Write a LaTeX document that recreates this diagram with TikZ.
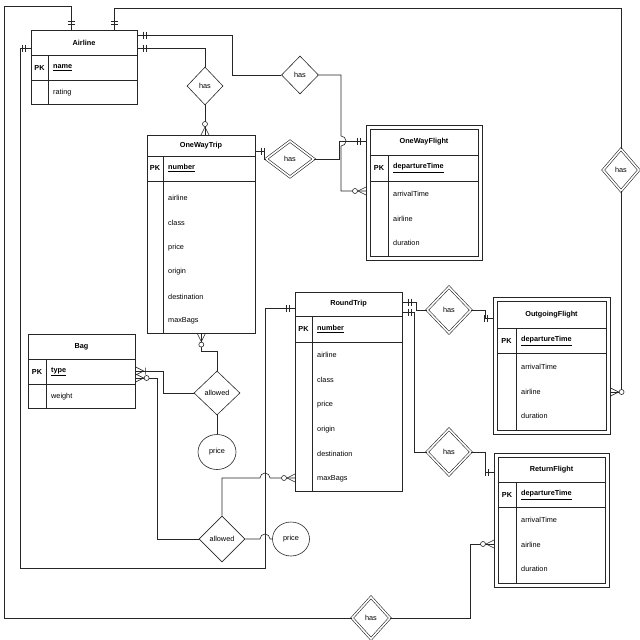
\documentclass[tikz,border=0pt]{standalone}
\usepackage{fontspec}
\setmainfont{Liberation Sans}
\usetikzlibrary{shapes.geometric, calc}
\newcommand\erfont{\fontsize{7.3}{8.5}\selectfont}

\tikzset{
  conn/.style={draw=black!85, line width=0.6pt},
  box/.style={conn, rectangle, inner sep=0pt, anchor=north west},
  rel/.style={conn, diamond, inner sep=0pt, font=\erfont},
  weakrel/.style={rel, double, double distance=1.6pt},
  attrib/.style={conn, ellipse, inner sep=0pt, font=\erfont},
  ertitle/.style={inner sep=0pt, font=\erfont\bfseries},
  erpk/.style={inner sep=0pt, font=\erfont\bfseries},
  erfield/.style={inner sep=0pt, anchor=west, font=\erfont},
  pics/mone/.style={code={\draw[conn] (-6pt,-3.5pt) -- (-6pt,3.5pt) (-9pt,-3.5pt) -- (-9pt,3.5pt);}},
  pics/zmany/.style={code={\draw[conn] (0pt,-4pt) -- (-8pt,0pt) -- (0pt,4pt);
      \draw[conn, fill=white] (-11pt,0pt) circle[radius=2.5pt];}},
  pics/omany/.style={code={\draw[conn] (0pt,-4pt) -- (-8pt,0pt) -- (0pt,4pt) (-10pt,-3.5pt) -- (-10pt,3.5pt);}},
}

\begin{document}
\begin{tikzpicture}[x=1pt, y=-1pt]
  \useasboundingbox (0,0) rectangle (640,640);

  % --- entities ---------------------------------------------------------
  % Airline
  \node[box, minimum width=106, minimum height=74] (airline) at (31,30) {};
  \draw[conn] (31,55) -- (137,55) (31,80) -- (137,80) (48,55) -- (48,104);
  \node[ertitle] (airline-t) at (84,43) {Airline};
  \node[erpk] (airline-pk) at (39.5,68) {PK};
  \node[erfield] (airline-k) at (53,68) {\textbf{\underline{name}}};
  \node[erfield] (airline-a1) at (53,93) {rating};

  % OneWayTrip
  \node[box, minimum width=108, minimum height=198] (owtrip) at (147,135) {};
  \draw[conn] (147,156) -- (255,156) (147,181) -- (255,181) (163,156) -- (163,333);
  \node[ertitle] (owtrip-t) at (201,146) {OneWayTrip};
  \node[erpk] (owtrip-pk) at (155,168) {PK};
  \node[erfield] (owtrip-k) at (168,168) {\textbf{\underline{number}}};
  \foreach \attr [count=\i] in {airline,class,price,origin,destination,maxBags}
    \node[erfield] (owtrip-a\i) at (168,{173.4+24.6*\i}) {\attr};

  % OneWayFlight (weak)
  \node[box, minimum width=116, minimum height=135] (owflight) at (366,125) {};
  \draw[conn] (370,129) rectangle (478,256);
  \draw[conn] (370,155) -- (478,155) (370,181) -- (478,181) (388,155) -- (388,256);
  \node[ertitle] (owflight-t) at (424,142) {OneWayFlight};
  \node[erpk] (owflight-pk) at (379,168) {PK};
  \node[erfield] (owflight-k) at (393,168) {\textbf{\underline{departureTime}}};
  \foreach \attr [count=\i] in {arrivalTime,airline,duration}
    \node[erfield] (owflight-a\i) at (393,{169.5+24.5*\i}) {\attr};

  % Bag
  \node[box, minimum width=107, minimum height=74] (bag) at (28,334) {};
  \draw[conn] (28,359) -- (135,359) (28,384) -- (135,384) (46,359) -- (46,408);
  \node[ertitle] (bag-t) at (81.5,347) {Bag};
  \node[erpk] (bag-pk) at (37,372) {PK};
  \node[erfield] (bag-k) at (51,372) {\textbf{\underline{type}}};
  \node[erfield] (bag-a1) at (51,397) {weight};

  % RoundTrip
  \node[box, minimum width=107, minimum height=199] (rtrip) at (295,292) {};
  \draw[conn] (295,316) -- (402,316) (295,342) -- (402,342) (312,316) -- (312,491);
  \node[ertitle] (rtrip-t) at (348.5,304) {RoundTrip};
  \node[erpk] (rtrip-pk) at (303.5,329) {PK};
  \node[erfield] (rtrip-k) at (317,329) {\textbf{\underline{number}}};
  \foreach \attr [count=\i] in {airline,class,price,origin,destination,maxBags}
    \node[erfield] (rtrip-a\i) at (317,{330.2+24.8*\i}) {\attr};

  % OutgoingFlight (weak)
  \node[box, minimum width=117, minimum height=137] (ogflight) at (493,297) {};
  \draw[conn] (497,301) rectangle (606,430);
  \draw[conn] (497,328) -- (606,328) (497,353) -- (606,353) (516,328) -- (516,430);
  \node[ertitle] (ogflight-t) at (551.5,315) {OutgoingFlight};
  \node[erpk] (ogflight-pk) at (506.5,341) {PK};
  \node[erfield] (ogflight-k) at (521,341) {\textbf{\underline{departureTime}}};
  \foreach \attr [count=\i] in {arrivalTime,airline,duration}
    \node[erfield] (ogflight-a\i) at (521,{342.5+24.5*\i}) {\attr};

  % ReturnFlight (weak)
  \node[box, minimum width=115, minimum height=134] (rtflight) at (494,453) {};
  \draw[conn] (498,457) rectangle (605,583);
  \draw[conn] (498,482) -- (605,482) (498,507) -- (605,507) (516,482) -- (516,583);
  \node[ertitle] (rtflight-t) at (551.5,470) {ReturnFlight};
  \node[erpk] (rtflight-pk) at (507,495) {PK};
  \node[erfield] (rtflight-k) at (521,495) {\textbf{\underline{departureTime}}};
  \foreach \attr [count=\i] in {arrivalTime,airline,duration}
    \node[erfield] (rtflight-a\i) at (521,{495.5+24.5*\i}) {\attr};

  % --- relationships and attributes -------------------------------------
  \node[rel, minimum width=36, minimum height=38] (has1) at (205,86) {has};
  \node[rel, minimum width=37, minimum height=38] (has2) at (300,75) {has};
  \node[weakrel, minimum width=48, minimum height=36] (has3) at (290,159) {has};
  \node[weakrel, minimum width=44, minimum height=46] (has4) at (449,310) {has};
  \node[weakrel, minimum width=44, minimum height=46] (has5) at (449,452) {has};
  \node[weakrel, minimum width=36, minimum height=42] (has6) at (621,170) {has};
  \node[weakrel, minimum width=38, minimum height=42] (has7) at (371,618) {has};
  \node[rel, minimum width=46, minimum height=44] (allow1) at (217,393) {allowed};
  \node[rel, minimum width=46, minimum height=46] (allow2) at (222,539) {allowed};
  \node[attrib, minimum width=38, minimum height=35] (price1) at (217,452) {price};
  \node[attrib, minimum width=37, minimum height=34] (price2) at (291,539) {price};

  % --- ports on the entity borders --------------------------------------
  \coordinate (al-t1) at ($(airline.north west)+(40,0)$);
  \coordinate (al-t2) at ($(airline.north west)+(83,0)$);
  \coordinate (al-r1) at ($(airline.north east)+(0,5)$);
  \coordinate (al-r2) at ($(airline.north east)+(0,18)$);
  \coordinate (al-l)  at ($(airline.north west)+(0,18)$);
  \coordinate (owt-t) at (has1.south |- owtrip.north);
  \coordinate (owt-r) at ($(owtrip.north east)+(0,16)$);
  \coordinate (owt-b) at (owtrip.south);
  \coordinate (owf-l1) at ($(owflight.north west)+(0,16)$);
  \coordinate (owf-l2) at ($(owflight.north west)+(0,66)$);
  \coordinate (bag-r1) at ($(bag.north east)+(0,37)$);
  \coordinate (bag-r2) at ($(bag.north east)+(0,44)$);
  \coordinate (rt-l1) at ($(rtrip.north west)+(0,16)$);
  \coordinate (rt-l2) at ($(rtrip.north west)+(0,186)$);
  \coordinate (rt-r1) at ($(rtrip.north east)+(0,10)$);
  \coordinate (rt-r2) at ($(rtrip.north east)+(0,20)$);
  \coordinate (og-l) at ($(ogflight.north west)+(0,21)$);
  \coordinate (og-r) at ($(ogflight.north east)+(0,95)$);
  \coordinate (rf-l1) at ($(rtflight.north west)+(0,19)$);
  \coordinate (rf-l2) at ($(rtflight.north west)+(0,91)$);
  % crossings where a line hops over another
  \coordinate (hop1) at (265,478);
  \coordinate (hop2) at (265,539);
  \coordinate (hop3) at (341,141);
  \coordinate (loopcorner) at (265,568);

  % --- connectors -------------------------------------------------------
  \draw[conn] (al-t1) |- (4,6) |- (has7.west);
  \draw[conn] (has7.east) -| ($(rf-l2)+(-24,0)$) -- (rf-l2);
  \draw[conn] (al-t2) -- ++(0,-22) -| (has6.north);
  \draw[conn] (has6.south) |- (og-r);
  \draw[conn] (al-r1) -- ++(95,0) |- (has2.west);
  \draw[conn] (has2.east) -| ($(hop3)+(0,-5)$)
    arc[start angle=90, end angle=-90, radius=5pt] |- (owf-l2);
  \draw[conn] (al-r2) -| (has1.north);
  \draw[conn] (has1.south) -- (owt-t);
  \draw[conn] (owt-r) -- ++(9,0) |- (has3.west);
  \draw[conn] (has3.east) -- ++(25,0) |- (owf-l1);
  \draw[conn] (al-l) -- ++(-11,0) |- (loopcorner) |- (rt-l1);
  \draw[conn] (bag-r1) -- ++(28,0) |- (allow1.west);
  \draw[conn] (allow1.north) -- ++(0,-19) -| (owt-b);
  \draw[conn] (allow1.south) -- (price1.north);
  \draw[conn] (bag-r2) -- ++(22,0) |- (allow2.west);
  \draw[conn] (allow2.north) |- ($(hop1)+(-5,0)$)
    arc[start angle=180, end angle=0, radius=5pt] -- (rt-l2);
  \draw[conn] (allow2.east) -- ($(hop2)+(-5,0)$)
    arc[start angle=180, end angle=0, radius=5pt] -- (price2.west);
  \draw[conn] (rt-r1) -- ++(14,0) |- (has4.west);
  \draw[conn] (has4.east) -- ++(14,0) |- (og-l);
  \draw[conn] (rt-r2) -- ++(12,0) |- (has5.west);
  \draw[conn] (has5.east) -- ++(14,0) |- (rf-l1);

  % --- cardinality marks ------------------------------------------------
  \pic[rotate=-90] at (al-t1) {mone};
  \pic[rotate=-90] at (al-t2) {mone};
  \pic[rotate=180] at (al-r1) {mone};
  \pic[rotate=180] at (al-r2) {mone};
  \pic at (al-l) {mone};
  \pic[rotate=-90] at (owt-t) {zmany};
  \pic[rotate=180] at (owt-r) {mone};
  \pic[rotate=90] at (owt-b) {zmany};
  \pic at (owf-l1) {mone};
  \pic at (owf-l2) {zmany};
  \pic[rotate=180] at (bag-r1) {omany};
  \pic[rotate=180] at (bag-r2) {zmany};
  \pic at (rt-l1) {mone};
  \pic at (rt-l2) {zmany};
  \pic[rotate=180] at (rt-r1) {mone};
  \pic[rotate=180] at (rt-r2) {mone};
  \pic at (og-l) {mone};
  \pic[rotate=180] at (og-r) {zmany};
  \pic at (rf-l1) {mone};
  \pic at (rf-l2) {zmany};
\end{tikzpicture}
\end{document}
